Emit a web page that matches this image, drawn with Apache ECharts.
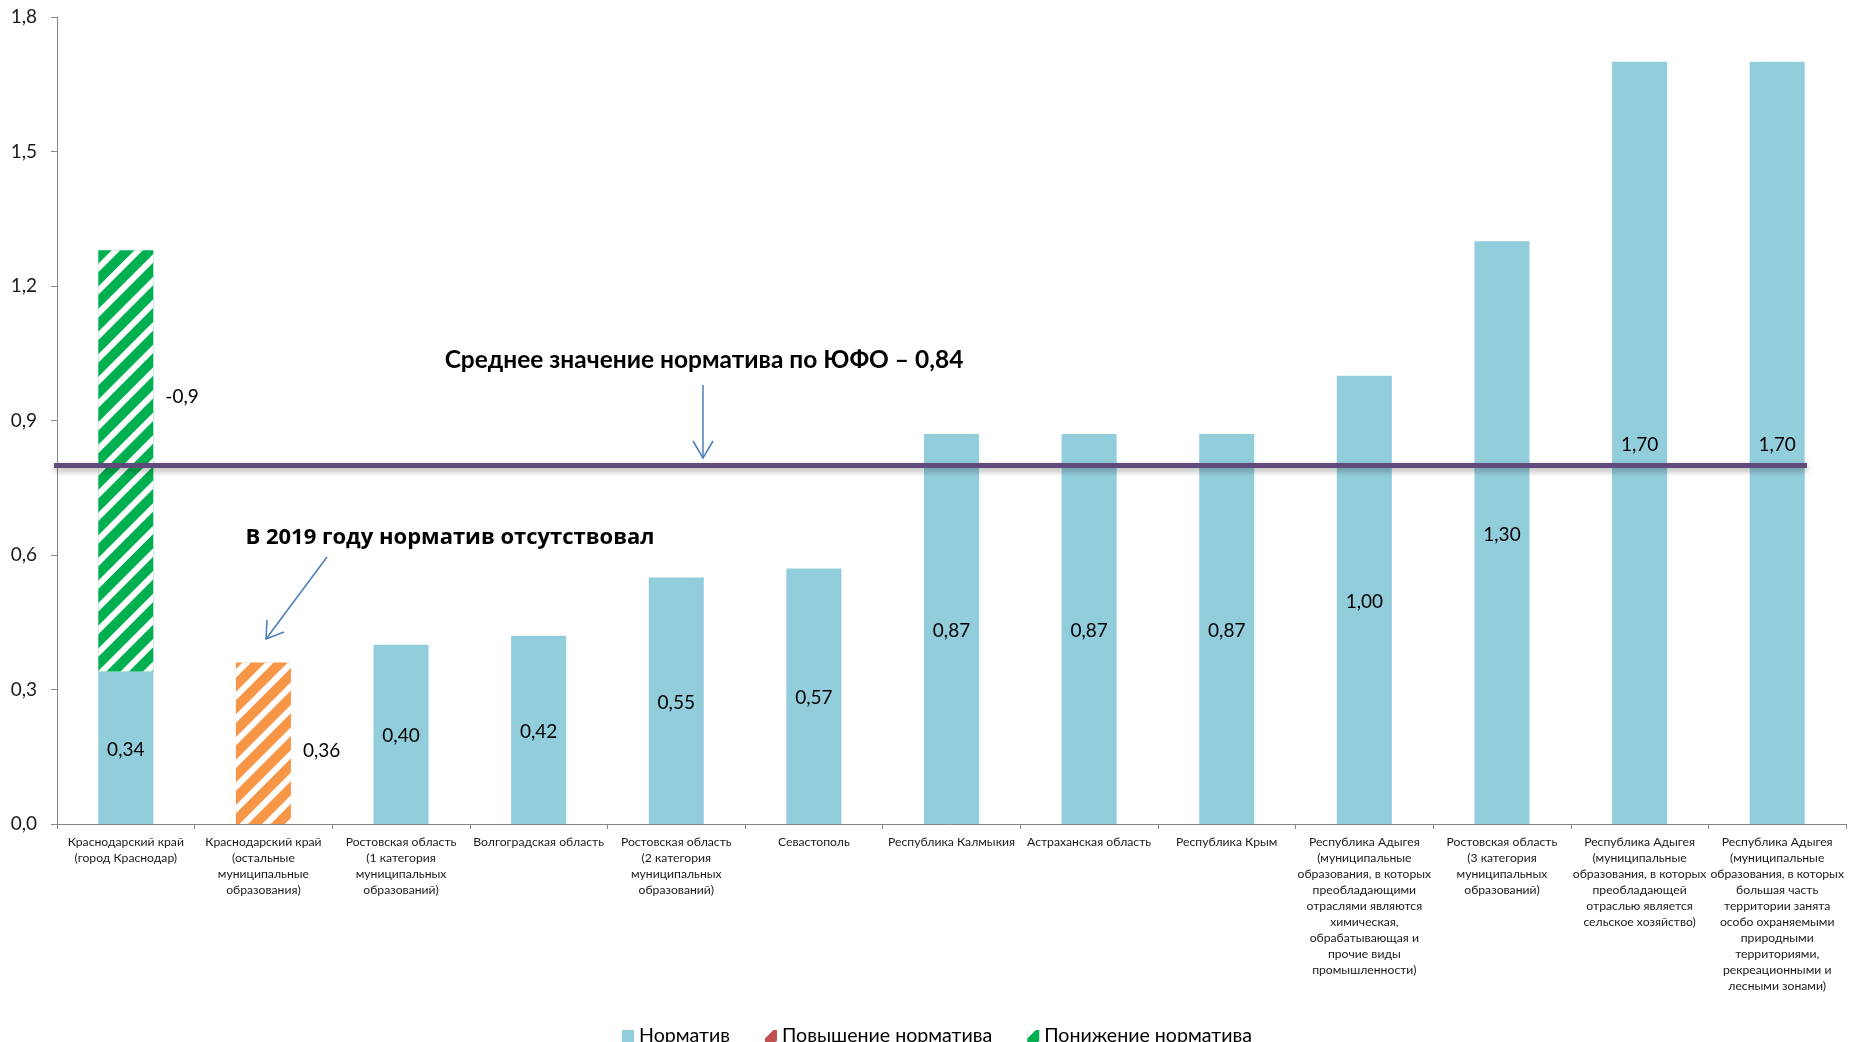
<!DOCTYPE html>
<html>
<head>
<meta charset="utf-8">
<script src="https://cdn.jsdelivr.net/npm/echarts@6/dist/echarts.min.js"></script>
<style>
html,body{margin:0;padding:0;background:#fff;}
#chart{width:1849px;height:1042px;}
</style>
</head>
<body>
<div id="chart"></div>
<script>
// ---- data ----
const categories = [
  "Краснодарский край\n(город Краснодар)",
  "Краснодарский край\n(остальные\nмуниципальные\nобразования)",
  "Ростовская область\n(1 категория\nмуниципальных\nобразований)",
  "Волгоградская область",
  "Ростовская область\n(2 категория\nмуниципальных\nобразований)",
  "Севастополь",
  "Республика Калмыкия",
  "Астраханская область",
  "Республика Крым",
  "Республика Адыгея\n(муниципальные\nобразования, в которых\nпреобладающими\nотраслями являются\nхимическая,\nобрабатывающая и\nпрочие виды\nпромышленности)",
  "Ростовская область\n(3 категория\nмуниципальных\nобразований)",
  "Республика Адыгея\n(муниципальные\nобразования, в которых\nпреобладающей\nотраслью является\nсельское хозяйство)",
  "Республика Адыгея\n(муниципальные\nобразования, в которых\nбольшая часть\nтерритории занята\nособо охраняемыми\nприродными\nтерриториями,\nрекреационными и\nлесными зонами)"
];
const normValues     = [0.34, '-', 0.40, 0.42, 0.55, 0.57, 0.87, 0.87, 0.87, 1.00, 1.30, 1.70, 1.70];
const increaseValues = ['-', 0.36, '-', '-', '-', '-', '-', '-', '-', '-', '-', '-', '-'];
const decreaseValues = [0.94, '-', '-', '-', '-', '-', '-', '-', '-', '-', '-', '-', '-'];
const averageLineValue = 0.80;
const yMin = 0, yMax = 1.8, yInterval = 0.3;
const seriesNames = ['Норматив', 'Повышение норматива', 'Понижение норматива'];
const avgText = 'Среднее значение норматива по ЮФО – 0,84';
const noteText = 'В 2019 году норматив отсутствовал';

const comma = (v, d) => Number(v).toFixed(d).replace('.', ',');
const FONT = 'Lato, "Open Sans", sans-serif';
const hatch = {symbol: 'rect', dashArrayX: [1, 0], dashArrayY: [6, 10], rotation: -Math.PI / 4, color: '#ffffff', symbolSize: 1};

const chart = echarts.init(document.getElementById('chart'), null, {renderer: 'canvas'});
const arrowColor = '#4a7ebb';
chart.setOption({
  animation: false,
  backgroundColor: '#ffffff',
  grid: {left: 57, right: 3, top: 17, bottom: 218, containLabel: false},
  legend: {
    left: 617, top: 1021,
    itemWidth: 12, itemHeight: 12, itemGap: 35,
    icon: 'rect',
    textStyle: {fontFamily: FONT, fontSize: 19.6, color: '#000'},
    data: [
      {name: seriesNames[0]},
      {name: seriesNames[1], itemStyle: {color: '#c0504d'}},
      {name: seriesNames[2]}
    ]
  },
  xAxis: {
    type: 'category',
    data: categories,
    axisLine: {lineStyle: {color: '#868686', width: 1}},
    axisTick: {show: true, length: 5, lineStyle: {color: '#868686'}},
    axisLabel: {interval: 0, fontFamily: FONT, fontSize: 12.2, lineHeight: 16, color: '#1a1a1a', margin: 10, align: 'center'},
    splitLine: {show: false}
  },
  yAxis: {
    type: 'value', min: yMin, max: yMax, interval: yInterval,
    axisLine: {show: true, lineStyle: {color: '#868686', width: 1}},
    axisTick: {show: true, length: 6, lineStyle: {color: '#868686'}},
    axisLabel: {fontFamily: FONT, fontSize: 19, color: '#1a1a1a', margin: 20, formatter: v => comma(v, 1)},
    splitLine: {show: false}
  },
  series: [
    {
      name: seriesNames[0], type: 'bar', stack: 's', data: normValues, barWidth: '40%',
      itemStyle: {color: '#92cddc'},
      label: {show: true, position: 'inside', offset: [0, 2], fontFamily: FONT, fontSize: 19, color: '#000',
        formatter: p => comma(p.value, 2)},
      markLine: {
        silent: true, symbol: ['none', 'none'],
        label: {show: false},
        lineStyle: {color: '#604a7b', width: 5, type: 'solid', shadowColor: 'rgba(0,0,0,0.35)', shadowBlur: 6, shadowOffsetY: 3},
        data: [[{yAxis: averageLineValue, x: 54}, {yAxis: averageLineValue, x: 1807}]]
      }
    },
    {
      name: seriesNames[1], type: 'bar', stack: 's', data: increaseValues, barWidth: '40%',
      itemStyle: {color: '#f79646', decal: hatch},
      label: {show: true, position: 'right', distance: 12, offset: [0, 8], fontFamily: FONT, fontSize: 19, color: '#000',
        formatter: p => comma(p.value, 2)}
    },
    {
      name: seriesNames[2], type: 'bar', stack: 's', data: decreaseValues, barWidth: '40%',
      itemStyle: {color: '#00b050', decal: hatch},
      label: {show: true, position: ['100%', '34%'], align: 'left', verticalAlign: 'middle', offset: [12, 3],
        fontFamily: FONT, fontSize: 19, color: '#000',
        formatter: p => '-' + comma(p.value, 1)}
    }
  ],
  aria: {enabled: false},
  graphic: [
    {type: 'text', x: 704, y: 360, style: {text: avgText, font: 'bold 24.5px ' + FONT, fill: '#000', textAlign: 'center', textVerticalAlign: 'middle'}},
    {type: 'line', shape: {x1: 703, y1: 385, x2: 703, y2: 458}, style: {stroke: arrowColor, lineWidth: 1.5}},
    {type: 'polyline', shape: {points: [[693, 441], [703, 458], [713, 441]]}, style: {stroke: arrowColor, lineWidth: 1.5, fill: null}},
    {type: 'text', x: 450, y: 538, style: {text: noteText, font: 'bold 22px "Open Sans", sans-serif', fill: '#000', textAlign: 'center', textVerticalAlign: 'middle'}},
    {type: 'line', shape: {x1: 327, y1: 557, x2: 266, y2: 639}, style: {stroke: arrowColor, lineWidth: 1.5}},
    {type: 'polyline', shape: {points: [[267, 620], [266, 639], [284, 632]]}, style: {stroke: arrowColor, lineWidth: 1.5, fill: null}}
  ]
});
</script>
</body>
</html>
